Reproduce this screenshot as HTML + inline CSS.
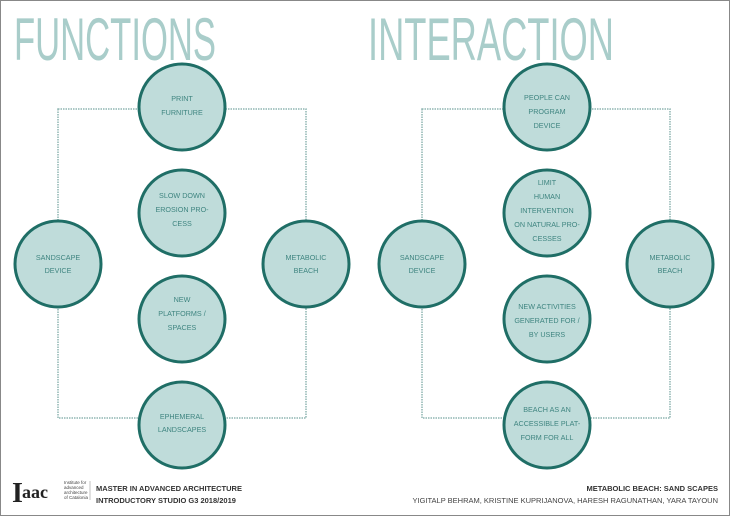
<!DOCTYPE html>
<html><head><meta charset="utf-8"><style>
html,body{margin:0;padding:0;background:#fff}
svg{display:block}
.t{font-family:"Liberation Sans",sans-serif;font-size:7.2px;fill:#3f8580;text-anchor:middle}
.h{font-family:"Liberation Sans",sans-serif;font-size:60px;fill:#a9cdca;font-weight:normal}
</style></head><body>
<svg width="730" height="516" viewBox="0 0 730 516" xmlns="http://www.w3.org/2000/svg">
<rect x="0.5" y="0.5" width="729" height="515" fill="#fff" stroke="#888" stroke-width="1"/>
<text class="h" x="14" y="60" textLength="202" lengthAdjust="spacingAndGlyphs">FUNCTIONS</text>
<text class="h" x="368" y="60" textLength="246" lengthAdjust="spacingAndGlyphs">INTERACTION</text>
<g fill="none" stroke="#8fb5b2" stroke-width="1.5" stroke-dasharray="1.5 1">
<rect x="58" y="109" width="248" height="309"/>
<rect x="422" y="109" width="248" height="309"/>
</g>
<g fill="#bfdcda" stroke="#1f6e66" stroke-width="3">
<circle cx="182" cy="107" r="43"/><circle cx="182" cy="213" r="43"/>
<circle cx="182" cy="319" r="43"/><circle cx="182" cy="425" r="43"/>
<circle cx="58" cy="264" r="43"/><circle cx="306" cy="264" r="43"/>
<circle cx="547" cy="107" r="43"/><circle cx="547" cy="213" r="43"/>
<circle cx="547" cy="319" r="43"/><circle cx="547" cy="425" r="43"/>
<circle cx="422" cy="264" r="43"/><circle cx="670" cy="264" r="43"/>
</g>
<g class="t">
<text x="182" y="101">PRINT</text><text x="182" y="115">FURNITURE</text>
<text x="182" y="198">SLOW DOWN</text><text x="182" y="212">EROSION PRO-</text><text x="182" y="226">CESS</text>
<text x="182" y="302">NEW</text><text x="182" y="316">PLATFORMS /</text><text x="182" y="330">SPACES</text>
<text x="182" y="419">EPHEMERAL</text><text x="182" y="432">LANDSCAPES</text>
<text x="58" y="260">SANDSCAPE</text><text x="58" y="273">DEVICE</text>
<text x="306" y="260">METABOLIC</text><text x="306" y="273">BEACH</text>
<text x="547" y="100">PEOPLE CAN</text><text x="547" y="114">PROGRAM</text><text x="547" y="128">DEVICE</text>
<text x="547" y="185">LIMIT</text><text x="547" y="199">HUMAN</text><text x="547" y="213">INTERVENTION</text><text x="547" y="227">ON NATURAL PRO-</text><text x="547" y="241">CESSES</text>
<text x="547" y="309">NEW ACTIVITIES</text><text x="547" y="323">GENERATED  FOR /</text><text x="547" y="337">BY USERS</text>
<text x="547" y="412">BEACH AS AN</text><text x="547" y="426">ACCESSIBLE PLAT-</text><text x="547" y="440">FORM FOR ALL</text>
<text x="422" y="260">SANDSCAPE</text><text x="422" y="273">DEVICE</text>
<text x="670" y="260">METABOLIC</text><text x="670" y="273">BEACH</text>
</g>
<text x="12" y="502" font-family="Liberation Serif,serif" font-size="28" font-weight="bold" fill="#222">I</text>
<text x="22" y="498" font-family="Liberation Serif,serif" font-size="18" font-weight="bold" fill="#222">aac</text>
<g font-family="Liberation Sans,sans-serif" font-size="4.5" fill="#444">
<text x="64" y="484">Institute for</text><text x="64" y="489">advanced</text><text x="64" y="494">architecture</text><text x="64" y="499">of Catalonia</text>
</g>
<line x1="90" y1="481" x2="90" y2="500" stroke="#999" stroke-width="0.6"/>
<g font-family="Liberation Sans,sans-serif" font-size="7.5" font-weight="bold" fill="#333">
<text x="96" y="491">MASTER IN ADVANCED ARCHITECTURE</text>
<text x="96" y="503">INTRODUCTORY STUDIO G3 2018/2019</text>
<text x="718" y="491" text-anchor="end">METABOLIC BEACH: SAND SCAPES</text>
</g>
<text x="718" y="503" text-anchor="end" font-family="Liberation Sans,sans-serif" font-size="7.5" fill="#444">YIGITALP BEHRAM, KRISTINE KUPRIJANOVA, HARESH RAGUNATHAN, YARA TAYOUN</text>
</svg>
</body></html>
